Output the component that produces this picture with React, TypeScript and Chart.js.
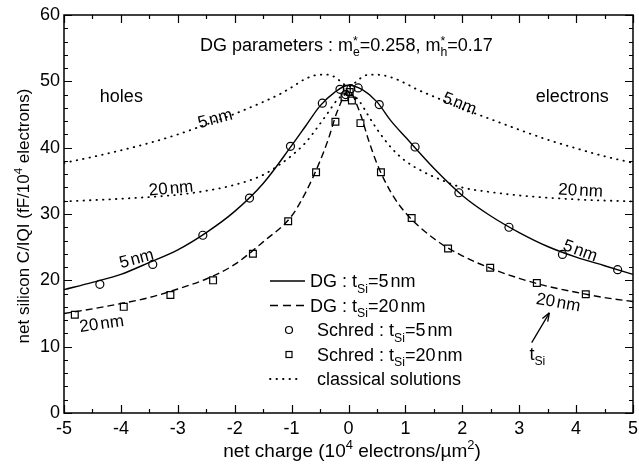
import React, { useEffect, useRef } from "react";
import { Chart, registerables } from "chart.js";

Chart.register(...registerables);

const FONT = "'Liberation Sans', Arial, Helvetica, sans-serif";

// ---------- data ----------
const xTickValues = [-5, -4, -3, -2, -1, 0, 1, 2, 3, 4, 5];
const yTickValues = [0, 10, 20, 30, 40, 50, 60];

const dg5X = [-5, -4.5, -4, -3.5, -3, -2.5, -2, -1.5, -1, -0.75, -0.5, -0.25, 0, 0.25, 0.5, 0.75, 1, 1.5, 2, 2.5, 3, 3.5, 4, 4.5, 5];
const dg5Y = [18.6, 19.7, 20.9, 22.7, 24.6, 27.2, 30.4, 34.6, 40.3, 43.3, 46.3, 48.3, 49.4, 48.7, 46.9, 44.0, 41.6, 36.9, 32.8, 29.7, 27.2, 25.1, 23.5, 22.2, 20.9];

const dg20X = [-5, -4.5, -4, -3.5, -3, -2.5, -2, -1.5, -1, -0.75, -0.5, -0.35, -0.2, 0, 0.2, 0.35, 0.5, 0.75, 1, 1.5, 2, 2.5, 3, 3.5, 4, 4.5, 5];
const dg20Y = [15.0, 15.7, 16.5, 17.4, 18.7, 20.2, 22.4, 25.8, 29.7, 33.3, 38.0, 41.4, 45.4, 48.5, 45.3, 41.2, 37.6, 33.2, 30.2, 26.3, 23.7, 21.8, 20.3, 19.1, 18.2, 17.4, 16.8];

const schred5X = [-4.37, -3.44, -2.56, -1.74, -1.02, -0.46, -0.15, -0.05, 0.04, 0.17, 0.54, 1.17, 1.94, 2.82, 3.76, 4.73];
const schred5Y = [19.4, 22.4, 26.8, 32.4, 40.2, 46.7, 48.8, 48.0, 48.9, 49.0, 46.5, 40.1, 33.2, 28.0, 23.9, 21.6];

const schred20X = [-4.81, -3.95, -3.13, -2.38, -1.68, -1.06, -0.57, -0.23, -0.07, -0.03, 0.02, 0.06, 0.21, 0.57, 1.11, 1.75, 2.49, 3.31, 4.17];
const schred20Y = [14.8, 16.0, 17.8, 20.0, 24.0, 28.9, 36.3, 43.9, 47.6, 48.9, 48.4, 47.1, 43.7, 36.3, 29.4, 24.8, 21.9, 19.6, 17.9];

const cl5X = [-5, -4.5, -4, -3.5, -3, -2.5, -2, -1.5, -1.2, -1, -0.75, -0.5, -0.35, -0.2, -0.1, 0, 0.1, 0.2, 0.35, 0.5, 0.75, 1, 1.2, 1.5, 2, 2.5, 3, 3.5, 4, 4.5, 5];
const cl5Y = [37.7, 38.6, 39.6, 40.7, 42.0, 43.5, 45.1, 46.9, 48.1, 49.1, 50.4, 51.0, 51.0, 50.4, 49.7, 49.2, 49.7, 50.4, 51.0, 51.0, 50.6, 49.7, 48.8, 47.7, 45.9, 44.3, 42.7, 41.2, 39.9, 38.7, 37.7];

const cl20X = [-5, -4, -3, -2.5, -2, -1.5, -1.2, -1, -0.75, -0.5, -0.35, -0.2, -0.1, 0, 0.1, 0.2, 0.35, 0.5, 0.75, 1, 1.33, 1.5, 2, 2.5, 3, 4, 5];
const cl20Y = [31.9, 32.3, 32.9, 33.5, 34.4, 35.9, 37.5, 38.8, 40.8, 43.6, 45.4, 47.2, 47.9, 48.2, 47.8, 46.9, 44.8, 42.8, 40.0, 38.0, 36.3, 35.6, 34.0, 33.3, 32.8, 32.2, 31.9];

// curve annotations: number, x, y (data), angle (deg)
const curveLabels: [string, number, number, number][] = [
  ["5", -2.35, 44.5, -15],
  ["20", -3.12, 34.0, -5],
  ["5", -3.73, 23.4, -15],
  ["20", -4.34, 13.6, -8],
  ["5", 1.96, 46.8, 22],
  ["20", 4.08, 33.7, 3],
  ["5", 4.08, 24.6, 20],
  ["20", 3.69, 16.8, 10],
];
const regionLabels: [string, number, number][] = [
  ["holes", -4.37, 47.9],
  ["electrons", 3.29, 47.9],
];
const arrowFrom = [3.22, 10.6];
const arrowTo = [3.53, 15.1];
const tsiLabelPos = [3.18, 9.0];

// ---------- rich text helpers ----------
type Seg = { t: string; k?: "sup" | "sub" | "stack" | "gap"; t2?: string; w?: number };

function measureRich(ctx: CanvasRenderingContext2D, segs: Seg[], size: number) {
  let w = 0;
  for (const s of segs) {
    if (s.k === "gap") {
      w += s.w || 0;
    } else if (!s.k) {
      ctx.font = `${size}px ${FONT}`;
      w += ctx.measureText(s.t).width;
    } else if (s.k === "stack") {
      ctx.font = `${size * 0.68}px ${FONT}`;
      w += Math.max(ctx.measureText(s.t).width, ctx.measureText(s.t2 || "").width);
    } else {
      ctx.font = `${size * 0.68}px ${FONT}`;
      w += ctx.measureText(s.t).width;
    }
  }
  return w;
}

function drawRich(ctx: CanvasRenderingContext2D, segs: Seg[], x: number, y: number, size: number, align: "left" | "center") {
  const w = measureRich(ctx, segs, size);
  let cx = align === "center" ? x - w / 2 : x;
  ctx.textAlign = "left";
  ctx.textBaseline = "alphabetic";
  const base = y + size * 0.36;
  for (const s of segs) {
    if (s.k === "gap") {
      cx += s.w || 0;
    } else if (!s.k) {
      ctx.font = `${size}px ${FONT}`;
      ctx.fillText(s.t, cx, base);
      cx += ctx.measureText(s.t).width;
    } else if (s.k === "stack") {
      ctx.font = `${size * 0.68}px ${FONT}`;
      ctx.fillText(s.t, cx, base - size * 0.36);
      ctx.fillText(s.t2 || "", cx, base + size * 0.24);
      cx += Math.max(ctx.measureText(s.t).width, ctx.measureText(s.t2 || "").width);
    } else {
      ctx.font = `${size * 0.68}px ${FONT}`;
      ctx.fillText(s.t, cx, s.k === "sup" ? base - size * 0.42 : base + size * 0.28);
      cx += ctx.measureText(s.t).width;
    }
  }
}

const nmSegs = (n: string): Seg[] => [{ t: n }, { t: "", k: "gap", w: 2 }, { t: "nm" }];

const xTitle: Seg[] = [{ t: "net charge (10" }, { t: "4", k: "sup" }, { t: " electrons/\u00b5m" }, { t: "2", k: "sup" }, { t: ")" }];
const yTitle: Seg[] = [{ t: "net silicon C/IQI (fF/10" }, { t: "4", k: "sup" }, { t: " electrons)" }];
const topTitle: Seg[] = [
  { t: "DG parameters : m" }, { t: "*", k: "stack", t2: "e" }, { t: "=0.258, m" }, { t: "*", k: "stack", t2: "h" }, { t: "=0.17" },
];
const legendRows: { segs: Seg[]; kind: string }[] = [
  { segs: [{ t: "DG : t" }, { t: "Si", k: "sub" }, { t: "=" }, ...nmSegs("5")], kind: "solid" },
  { segs: [{ t: "DG : t" }, { t: "Si", k: "sub" }, { t: "=" }, ...nmSegs("20")], kind: "dashed" },
  { segs: [{ t: "Schred : t" }, { t: "Si", k: "sub" }, { t: "=" }, ...nmSegs("5")], kind: "circle" },
  { segs: [{ t: "Schred : t" }, { t: "Si", k: "sub" }, { t: "=" }, ...nmSegs("20")], kind: "square" },
  { segs: [{ t: "classical solutions" }], kind: "dotted" },
];

const pts = (xs: number[], ys: number[]) => xs.map((x, i) => ({ x, y: ys[i] }));

const decorPlugin = {
  id: "decor",
  afterDraw(chart: any) {
    const { ctx, chartArea: a } = chart;
    const xs = chart.scales.x;
    const ys = chart.scales.y;
    ctx.save();
    ctx.strokeStyle = "#000";
    ctx.fillStyle = "#000";
    // frame
    ctx.lineWidth = 1.5;
    ctx.setLineDash([]);
    ctx.strokeRect(a.left, a.top, a.right - a.left, a.bottom - a.top);
    // inward ticks
    ctx.lineWidth = 1.2;
    ctx.beginPath();
    for (let v = xs.min; v <= xs.max + 1e-9; v += 0.5) {
      const px = Math.round(xs.getPixelForValue(v)) + 0.5;
      const len = Math.abs(v - Math.round(v)) < 1e-9 ? 8 : 4;
      ctx.moveTo(px, a.bottom); ctx.lineTo(px, a.bottom - len);
      ctx.moveTo(px, a.top); ctx.lineTo(px, a.top + len);
    }
    for (let v = ys.min; v <= ys.max + 1e-9; v += 2) {
      const py = Math.round(ys.getPixelForValue(v)) + 0.5;
      const len = Math.abs(v / 10 - Math.round(v / 10)) < 1e-9 ? 8 : 4;
      ctx.moveTo(a.left, py); ctx.lineTo(a.left + len, py);
      ctx.moveTo(a.right, py); ctx.lineTo(a.right - len, py);
    }
    ctx.stroke();

    // axis titles
    drawRich(ctx, xTitle, 352, 450, 19, "center");
    ctx.save();
    ctx.translate(23, 216);
    ctx.rotate(-Math.PI / 2);
    drawRich(ctx, yTitle, 0, 0, 17, "center");
    ctx.restore();

    // top parameter text
    drawRich(ctx, topTitle, 200, 45, 18, "left");

    // region labels
    for (const [t, x, y] of regionLabels) {
      drawRich(ctx, [{ t }], xs.getPixelForValue(x), ys.getPixelForValue(y), 18, "left");
    }

    // curve labels
    for (const [t, x, y, ang] of curveLabels) {
      ctx.save();
      ctx.translate(xs.getPixelForValue(x), ys.getPixelForValue(y));
      ctx.rotate((ang * Math.PI) / 180);
      drawRich(ctx, nmSegs(t), 0, 0, 17, "center");
      ctx.restore();
    }

    // arrow with t_Si
    const ax0 = xs.getPixelForValue(arrowFrom[0]);
    const ay0 = ys.getPixelForValue(arrowFrom[1]);
    const ax1 = xs.getPixelForValue(arrowTo[0]);
    const ay1 = ys.getPixelForValue(arrowTo[1]);
    ctx.lineWidth = 1.3;
    ctx.beginPath();
    ctx.moveTo(ax0, ay0);
    ctx.lineTo(ax1, ay1);
    ctx.stroke();
    const ang = Math.atan2(ay1 - ay0, ax1 - ax0);
    ctx.beginPath();
    ctx.moveTo(ax1, ay1);
    ctx.lineTo(ax1 - 9 * Math.cos(ang - 0.35), ay1 - 9 * Math.sin(ang - 0.35));
    ctx.moveTo(ax1, ay1);
    ctx.lineTo(ax1 - 9 * Math.cos(ang + 0.35), ay1 - 9 * Math.sin(ang + 0.35));
    ctx.stroke();
    drawRich(ctx, [{ t: "t" }, { t: "Si", k: "sub" }], xs.getPixelForValue(tsiLabelPos[0]), ys.getPixelForValue(tsiLabelPos[1]), 18, "left");

    // legend
    const rowY = [281, 305.5, 330, 354.5, 379];
    legendRows.forEach((row, i) => {
      const y = rowY[i];
      ctx.lineWidth = 1.3;
      ctx.setLineDash([]);
      ctx.lineCap = "butt";
      if (row.kind === "solid" || row.kind === "dashed" || row.kind === "dotted") {
        if (row.kind === "dashed") ctx.setLineDash([8, 5]);
        if (row.kind === "dotted") { ctx.setLineDash([0.5, 6]); ctx.lineCap = "round"; ctx.lineWidth = 1.8; }
        ctx.beginPath();
        ctx.moveTo(270, y);
        ctx.lineTo(row.kind === "dotted" ? 302 : 305, y);
        ctx.stroke();
        ctx.setLineDash([]);
        ctx.lineCap = "butt";
      } else if (row.kind === "circle") {
        ctx.lineWidth = 1.2;
        ctx.beginPath();
        ctx.arc(289, y, 3.5, 0, Math.PI * 2);
        ctx.stroke();
      } else {
        ctx.lineWidth = 1.2;
        ctx.strokeRect(286, y - 3, 6, 6);
      }
      drawRich(ctx, row.segs, row.kind === "solid" || row.kind === "dashed" ? 310 : 317, y, 18, "left");
    });
    ctx.restore();
  },
};

export default function App() {
  const ref = useRef<HTMLCanvasElement>(null);
  useEffect(() => {
    const canvas = ref.current!;
    const lineBase = {
      type: "line" as const,
      borderColor: "#000",
      backgroundColor: "#000",
      pointRadius: 0,
      fill: false,
      cubicInterpolationMode: "monotone" as const,
      borderWidth: 1.4,
    };
    const chart = new Chart(canvas, {
      type: "line",
      data: {
        datasets: [
          { ...lineBase, label: "DG 5nm", data: pts(dg5X, dg5Y) },
          { ...lineBase, label: "DG 20nm", data: pts(dg20X, dg20Y), borderDash: [7, 4] },
          { ...lineBase, label: "classical 5nm", data: pts(cl5X, cl5Y), borderDash: [0.5, 6], borderCapStyle: "round", borderWidth: 1.8 },
          { ...lineBase, label: "classical 20nm", data: pts(cl20X, cl20Y), borderDash: [0.5, 6], borderCapStyle: "round", borderWidth: 1.8 },
          {
            type: "scatter" as any,
            label: "Schred 5nm",
            data: pts(schred5X, schred5Y),
            showLine: false,
            pointStyle: "circle",
            pointRadius: 4,
            pointBorderWidth: 1.2,
            borderColor: "#000",
            pointBackgroundColor: "rgba(0,0,0,0)",
          },
          {
            type: "scatter" as any,
            label: "Schred 20nm",
            data: pts(schred20X, schred20Y),
            showLine: false,
            pointStyle: "rect",
            pointRadius: 4.8,
            pointBorderWidth: 1.2,
            borderColor: "#000",
            pointBackgroundColor: "rgba(0,0,0,0)",
          },
        ] as any,
      },
      options: {
        responsive: false,
        animation: false,
        devicePixelRatio: 1,
        layout: { padding: { left: 0, right: 2, top: 15, bottom: 0 } },
        plugins: { legend: { display: false }, tooltip: { enabled: false } },
        scales: {
          x: {
            type: "linear",
            min: -5,
            max: 5,
            afterBuildTicks: (s: any) => { s.ticks = xTickValues.map((v) => ({ value: v })); },
            afterFit: (s: any) => { s.height = 52; s.paddingLeft = 0; s.paddingRight = 0; },
            grid: { display: false, drawTicks: false },
            border: { display: false },
            ticks: { color: "#000", padding: 5, font: { family: FONT, size: 18 }, maxRotation: 0, autoSkip: false },
          },
          y: {
            type: "linear",
            min: 0,
            max: 60,
            afterBuildTicks: (s: any) => { s.ticks = yTickValues.map((v) => ({ value: v })); },
            afterFit: (s: any) => { s.width = 64; s.paddingTop = 0; s.paddingBottom = 0; },
            grid: { display: false, drawTicks: false },
            border: { display: false },
            ticks: { color: "#000", padding: 4, font: { family: FONT, size: 18 }, autoSkip: false },
          },
        },
      } as any,
      plugins: [decorPlugin],
    });
    return () => chart.destroy();
  }, []);
  return (
    <canvas
      ref={ref}
      width={639}
      height={465}
      style={{ position: "fixed", left: 0, top: 0, width: 639, height: 465, background: "#fff" }}
    />
  );
}
